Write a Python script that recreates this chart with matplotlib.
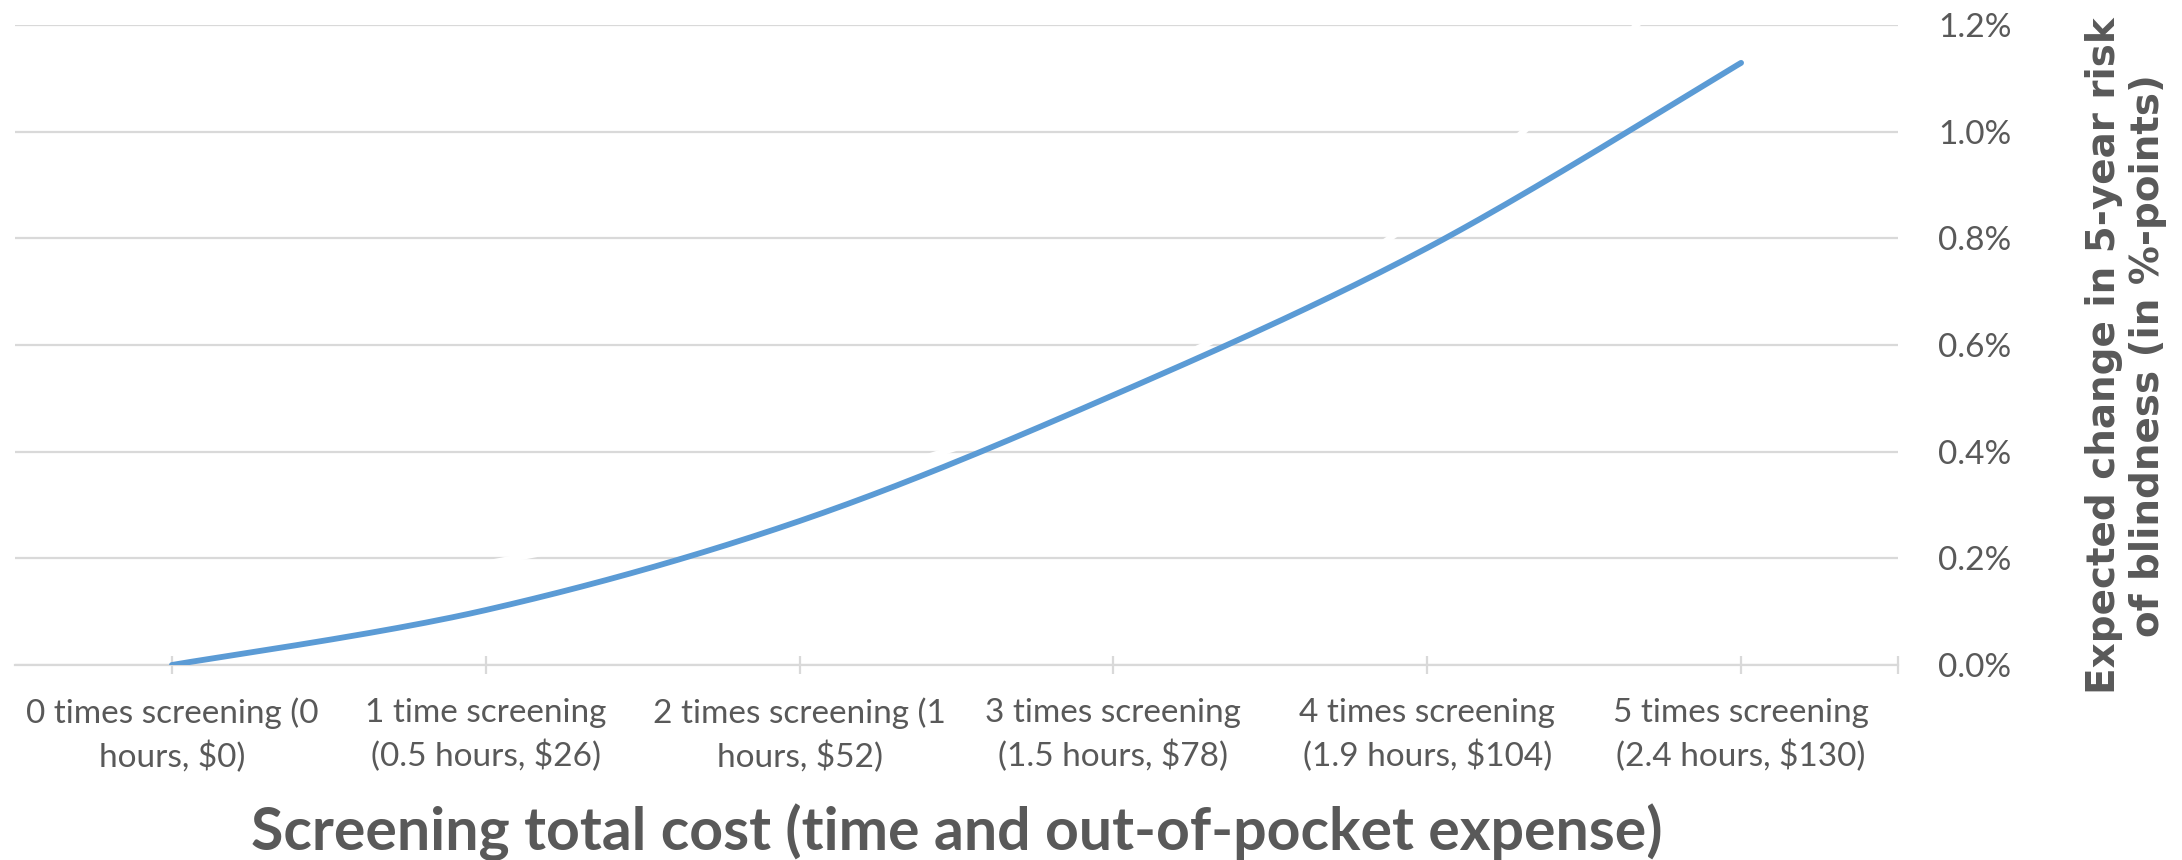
import numpy as np
import matplotlib
matplotlib.use("Agg")
import matplotlib.pyplot as plt
from matplotlib import font_manager as fm
from matplotlib.ticker import FixedLocator, FuncFormatter

# ---- data -------------------------------------------------------------
categories = [
    "0 times screening (0\nhours, $0)",
    "1 time screening\n(0.5 hours, $26)",
    "2 times screening (1\nhours, $52)",
    "3 times screening\n(1.5 hours, $78)",
    "4 times screening\n(1.9 hours, $104)",
    "5 times screening\n(2.4 hours, $130)",
]
risk_change = [0.0, 0.103, 0.27, 0.506, 0.782, 1.129]      # % points
upper_band = [0.10, 0.19, 0.32, 0.52, 0.85, 1.39]          # white helper series
y_ticks = [0.0, 0.2, 0.4, 0.6, 0.8, 1.0, 1.2]

# ---- fonts ------------------------------------------------------------
installed = {f.name for f in fm.fontManager.ttflist}
def pick(*names):
    for n in names:
        if n in installed:
            return n
    return "DejaVu Sans"

narrow = pick("Liberation Sans Narrow", "Lato", "Open Sans")
TEXT = "#595959"
GRID = "#d9d9d9"
BLUE = "#5b9bd5"


def smooth(xs, ys, n=40):
    """Bezier smoothing through every point (Catmull-Rom style)."""
    p = np.column_stack([xs, ys]).astype(float)
    ext = np.vstack([p[0], p, p[-1]])
    out = []
    t = np.linspace(0, 1, n)[:, None]
    for i in range(len(p) - 1):
        p0, p1, p2, p3 = ext[i], ext[i + 1], ext[i + 2], ext[i + 3]
        c1 = p1 + (p2 - p0) / 6.0
        c2 = p2 - (p3 - p1) / 6.0
        seg = ((1 - t) ** 3) * p1 + 3 * ((1 - t) ** 2) * t * c1 \
            + 3 * (1 - t) * t ** 2 * c2 + t ** 3 * p2
        out.append(seg if i == 0 else seg[1:])
    a = np.vstack(out)
    return a[:, 0], a[:, 1]


fig = plt.figure(figsize=(21.82, 8.6), dpi=100)
ax = fig.add_axes([15 / 2182, 195 / 860, (1898 - 15) / 2182, 640 / 860])

x = np.arange(len(categories))

ax.set_xlim(-0.5, len(categories) - 0.5)
ax.set_ylim(0, 1.2)

# horizontal gridlines
for yv in y_ticks:
    ax.axhline(yv, color=GRID, lw=1.6, zorder=1)

xs, ys = smooth(x, upper_band)
ax.plot(xs, ys, color="white", lw=4.4, zorder=2, solid_capstyle="butt")

xs, ys = smooth(x, risk_change)
ax.plot(xs, ys, color=BLUE, lw=4.2, zorder=3, solid_capstyle="round")

for s in ["top", "left", "right"]:
    ax.spines[s].set_visible(False)
ax.spines["bottom"].set_color(GRID)
ax.spines["bottom"].set_linewidth(1.6)
ax.spines["bottom"].set_zorder(1)

# category axis: ticks on the categories plus the closing edge
ax.xaxis.set_major_locator(FixedLocator(list(x) + [len(categories) - 0.5]))
ax.xaxis.set_major_formatter(
    FuncFormatter(lambda v, pos: categories[pos] if pos is not None and pos < len(categories) else ""))
ax.tick_params(axis="x", direction="inout", length=13, width=1.6, color=GRID,
               pad=17, labelsize=24, labelcolor=TEXT)
for lab in ax.get_xticklabels():
    lab.set_fontfamily(narrow)
    lab.set_linespacing(1.45)
    lab.set_ha("center")

# value axis on the right
ax.yaxis.tick_right()
ax.yaxis.set_major_locator(FixedLocator(y_ticks))
ax.yaxis.set_major_formatter(FuncFormatter(lambda v, pos: f"{v:.1f}%"))
ax.tick_params(axis="y", length=0, pad=29, labelsize=24, labelcolor=TEXT)
for lab in ax.get_yticklabels():
    lab.set_fontfamily(narrow)

fig.text(957 / 2182, 1 - 832 / 860,
         "Screening total cost (time and out-of-pocket expense)",
         ha="center", va="center", fontsize=42.5, fontweight="bold",
         color=TEXT, family=narrow)

fig.text(2126 / 2182, 1 - 356 / 860,
         "Expected change in 5-year risk\nof blindness (in %-points)",
         ha="center", va="center", rotation=90, fontsize=28,
         fontweight="bold", color=TEXT, family="DejaVu Sans",
         linespacing=1.2)

fig.savefig("out.png", dpi=100, facecolor="white")
